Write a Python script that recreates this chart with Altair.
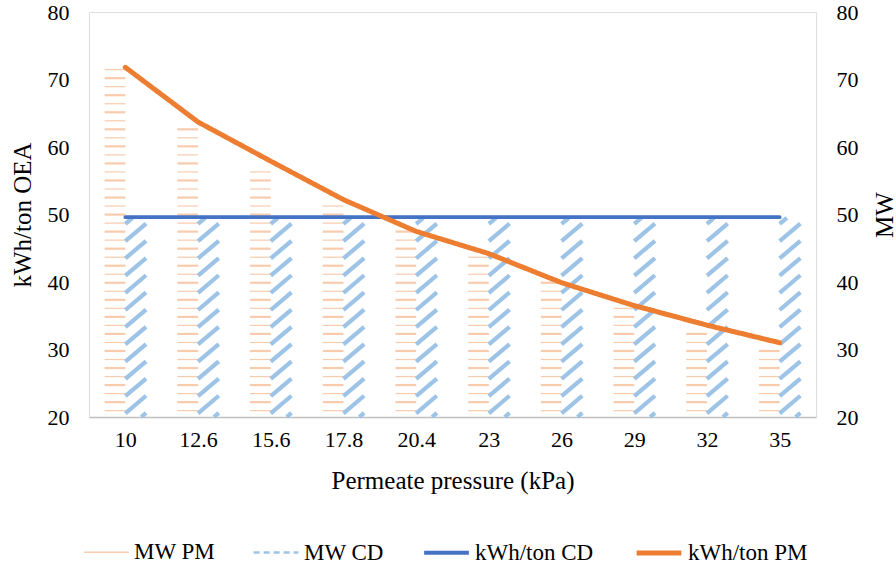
import json
import altair as alt
import pandas as pd

# ---------------- data ----------------
categories = ["10", "12.6", "15.6", "17.8", "20.4", "23", "26", "29", "32", "35"]
mw_pm = [71.7, 63.0, 57.4, 51.5, 47.8, 44.0, 40.0, 36.4, 33.2, 30.5]
mw_cd = [49.5, 49.5, 49.5, 49.5, 49.5, 49.5, 49.5, 49.5, 49.5, 49.5]
kwh_cd = [49.6, 49.6, 49.6, 49.6, 49.6, 49.6, 49.6, 49.6, 49.6, 49.6]
kwh_pm = [71.8, 63.7, 57.9, 52.2, 47.5, 44.2, 39.9, 36.5, 33.6, 31.0]

series_names = ["MW PM", "MW CD", "kWh/ton CD", "kWh/ton PM"]
series_colors = ["#F8CBAD", "#9DC3E6", "#4472C4", "#ED7D31"]

FONT = "Liberation Serif, DejaVu Serif, serif"
BASE = 20.0
HALF = 0.285          # bar width in category units

# ---------------- hatch geometry derived from the bar values ----------------
h_thin, h_thick = [], []
for i, v in enumerate(mw_pm):
    lvl, k = BASE + 0.94, 0
    while lvl <= v:
        row = dict(x=i - HALF, x2=i, y=lvl)
        (h_thick if k % 2 else h_thin).append(row)
        lvl += 1.263
        k += 1

diag = []
RISE, PERIOD = 2.6, 2.55
for i, v in enumerate(mw_cd):
    y0 = BASE - RISE + 0.6
    while y0 < v:
        t_lo = max(0.0, (BASE - y0) / RISE)
        t_hi = min(1.0, (v - y0) / RISE)
        if t_hi > t_lo:
            diag.append(dict(x=i + HALF * t_lo, y=y0 + RISE * t_lo,
                             x2=i + HALF * t_hi, y2=y0 + RISE * t_hi))
        y0 += PERIOD

lines_cd = pd.DataFrame(dict(i=range(len(categories)), value=kwh_cd, series="kWh/ton CD"))
lines_pm = pd.DataFrame(dict(i=range(len(categories)), value=kwh_pm, series="kWh/ton PM"))

label_expr = json.dumps(categories) + "[datum.value]"

xscale = alt.Scale(domain=[-0.5, len(categories) - 0.5], nice=False, zero=False)
xaxis = alt.Axis(values=list(range(len(categories))), labelExpr=label_expr,
                 title="Permeate pressure (kPa)", grid=False, ticks=False,
                 domainColor="#BFBFBF", domainWidth=1.5,
                 labelFont=FONT, labelFontSize=22, labelColor="black", labelPadding=12,
                 titleFont=FONT, titleFontSize=25, titleFontWeight="normal",
                 titleColor="black", titlePadding=18)

yscale = alt.Scale(domain=[20, 80], nice=False, zero=False)


def yaxis(orient, title, tpad):
    return alt.Axis(orient=orient, values=list(range(20, 81, 10)), title=title,
                    grid=False, ticks=False, domain=False,
                    labelFont=FONT, labelFontSize=22, labelColor="black", labelPadding=20,
                    titleFont=FONT, titleFontSize=25, titleFontWeight="normal",
                    titleColor="black", titlePadding=tpad, titleAngle=270)


RIGHT = yaxis("right", "MW", 39)
LEFT = yaxis("left", "kWh/ton OEA", 12)

# bars (right axis: MW)
hs_thin = alt.Chart(pd.DataFrame(h_thin)).mark_rule(color="#F8CBAD", strokeWidth=1.2).encode(
    x=alt.X("x:Q", scale=xscale, axis=xaxis), x2="x2:Q",
    y=alt.Y("y:Q", scale=yscale, axis=RIGHT))
hs_thick = alt.Chart(pd.DataFrame(h_thick)).mark_rule(color="#F8CBAD", strokeWidth=2.2).encode(
    x=alt.X("x:Q", scale=xscale, axis=xaxis), x2="x2:Q",
    y=alt.Y("y:Q", scale=yscale, axis=RIGHT))
ds = alt.Chart(pd.DataFrame(diag)).mark_rule(color="#9DC3E6", strokeWidth=4.2, strokeCap="butt").encode(
    x=alt.X("x:Q", scale=xscale, axis=xaxis), x2="x2:Q",
    y=alt.Y("y:Q", scale=yscale, axis=RIGHT), y2="y2:Q")
bars = alt.layer(hs_thin, hs_thick, ds)

legend = alt.Legend(title=None, orient="none", legendX=-6, legendY=516,
                    direction="horizontal", symbolType="stroke", symbolSize=2000,
                    labelFont=FONT, labelFontSize=23, labelColor="black",
                    labelOffset=4, columnPadding=32, labelLimit=300)

color = alt.Color("series:N", scale=alt.Scale(domain=series_names, range=series_colors), legend=legend)
dash = alt.StrokeDash("series:N", scale=alt.Scale(domain=series_names,
                                                  range=[[1, 0], [6, 4], [1, 0], [1, 0]]), legend=legend)
width = alt.StrokeWidth("series:N", scale=alt.Scale(domain=series_names,
                                                   range=[1.5, 5, 4.5, 4.5]), legend=legend)


def line(df):
    return alt.Chart(df).mark_line(strokeCap="round", strokeJoin="round").encode(
        x=alt.X("i:Q", scale=xscale, axis=xaxis),
        y=alt.Y("value:Q", scale=yscale, axis=LEFT),
        color=color, strokeDash=dash, strokeWidth=width)


lines = alt.layer(line(lines_cd), line(lines_pm))

chart = alt.layer(bars, lines).resolve_scale(y="independent").properties(
    width=727, height=405,
    autosize=alt.AutoSizeParams(type="none"),
    padding={"left": 89, "top": 12, "right": 80, "bottom": 150},
).configure_view(stroke="black", strokeWidth=1.2).configure(background="white")

chart.save("out.html", embed_options={"renderer": "svg", "actions": False})
